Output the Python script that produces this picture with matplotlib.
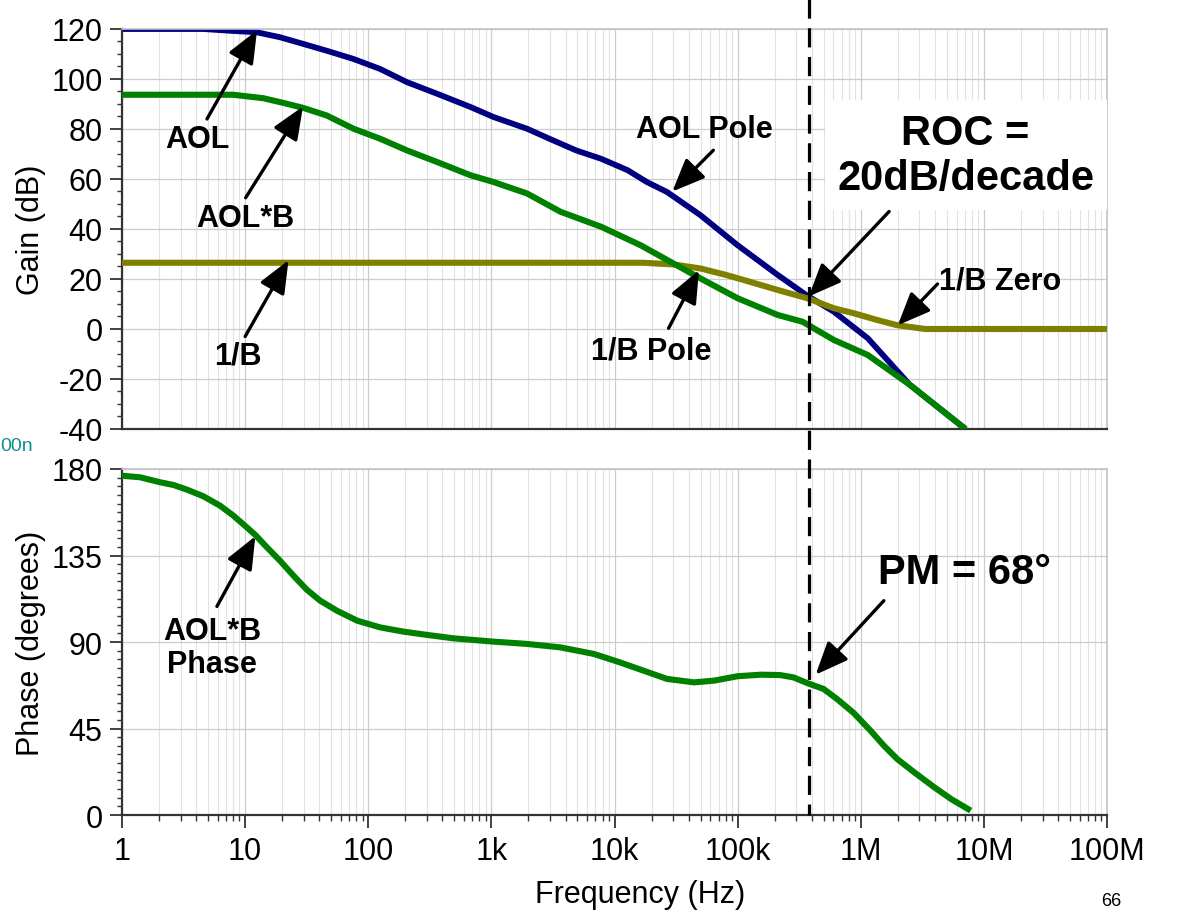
import numpy as np
import matplotlib.pyplot as plt
import matplotlib.transforms as mtransforms
from matplotlib.lines import Line2D
from matplotlib.ticker import FixedLocator, LogLocator, MultipleLocator, NullFormatter

plt.rcParams['font.family'] = ['Liberation Sans', 'DejaVu Sans']
plt.rcParams['axes.unicode_minus'] = False

# AOL (open loop gain), dB
aol_f = [1, 4.6, 7.5, 12.4, 19.2, 29.8, 46, 76, 125, 207, 362, 676, 1040, 1950,
         2960, 4900, 7780, 12800, 18300, 26700, 50000, 100000, 212000, 368000,
         605000, 1140000, 2500000, 6800000]
aol_db = [120, 120, 119.3, 118.7, 116.7, 114, 111.3, 108, 104, 98.7, 94.1, 88.8,
          84.8, 80.1, 76.1, 71.4, 68.1, 63.5, 58.8, 54.8, 45.5, 33.5, 21.6, 13.3,
          6.9, -3.7, -22.3, -39.3]

# AOL*B (loop gain), dB
loop_f = [1, 8, 14.1, 21.8, 29.8, 46, 76, 125, 207, 362, 676, 1040, 1950, 3640,
          7780, 16300, 32000, 50000, 100000, 212000, 337000, 415000, 605000,
          1140000, 2500000, 6800000]
loop_db = [93.7, 93.7, 92.3, 90.1, 88.4, 85.4, 80.1, 76.1, 71.4, 66.8, 61.5, 58.8,
           54.2, 46.9, 40.9, 33.5, 25.5, 20.2, 12.3, 5.6, 2.9, 0.3, -4.4, -10.4,
           -22.3, -39.3]

# 1/B, dB
invb_f = [1, 17200, 30400, 50000, 81000, 112000, 212000, 368000, 605000, 876000,
          1360000, 1980000, 3340000, 1e8]
invb_db = [26.5, 26.5, 25.8, 24.2, 21.6, 19.6, 15.6, 12.3, 8.3, 6.3, 3.6, 1.5,
           0, 0]

# AOL*B phase, degrees
ph_f = [1, 1.4, 2.04, 2.61, 3.36, 4.58, 6.26, 8.04, 10.3, 12.1, 15, 19.2, 24.7,
        31.7, 40.7, 55.6, 81.2, 125, 193, 300, 494, 1040, 1950, 3640, 6790,
        11070, 17190, 26670, 44230, 64500, 99900, 155000, 221000, 284000,
        372000, 498000, 640000, 876000, 1200000, 1540000, 1980000, 2720000,
        3960000, 5420000, 7440000]
ph_deg = [176.5, 175.7, 173.1, 171.7, 169.3, 165.8, 160.9, 155.7, 149.7, 145.7,
          139.3, 132.3, 124.5, 117.2, 111.5, 106.3, 101.1, 97.6, 95.4, 93.7,
          91.9, 90.2, 89.0, 87.2, 83.8, 79.4, 75.1, 70.8, 69.0, 69.9, 72.2, 73.0,
          72.8, 71.6, 68.5, 65.6, 60.4, 53.1, 43.9, 36.1, 29.1, 22.2, 14.4, 8.3,
          3.1]

f_cross = 378000  # frequency of the dashed marker line

x_ticks = [1, 10, 100, 1e3, 1e4, 1e5, 1e6, 1e7, 1e8]
x_labels = ['1', '10', '100', '1k', '10k', '100k', '1M', '10M', '100M']
gain_ticks = [-40, -20, 0, 20, 40, 60, 80, 100, 120]
phase_ticks = [0, 45, 90, 135, 180]

fig = plt.figure(figsize=(11.8, 9.12), dpi=100)
ax1 = fig.add_axes([0.10339, 0.52851, 0.83475, 0.43860])
ax2 = fig.add_axes([0.10339, 0.10526, 0.83475, 0.37939])

for ax in (ax1, ax2):
    ax.set_xscale('log')
    ax.set_xlim(1, 1e8)
    ax.xaxis.set_major_locator(FixedLocator(x_ticks))
    ax.xaxis.set_minor_locator(LogLocator(base=10, subs=np.arange(2, 10)))
    ax.xaxis.set_minor_formatter(NullFormatter())
    ax.set_axisbelow(True)
    ax.grid(True, which='major', color='#cccccc', lw=0.9)
    ax.grid(True, which='minor', axis='x', color='#e2e2e2', lw=0.8)
    for s in ('top', 'right'):
        ax.spines[s].set_color('#c4c4c4')
        ax.spines[s].set_linewidth(1.2)
    for s in ('left', 'bottom'):
        ax.spines[s].set_color('#333333')
        ax.spines[s].set_linewidth(1.6)
    ax.tick_params(axis='y', which='major', labelsize=22, length=9, width=1.3,
                   pad=5, color='#333333')
    ax.tick_params(axis='y', which='minor', length=3.5, width=1.0, color='#333333')

# gain plot
ax1.plot(aol_f, aol_db, color='#000080', lw=4.2, zorder=2)
ax1.plot(invb_f, invb_db, color='#808000', lw=4.4, zorder=3)
ax1.plot(loop_f, loop_db, color='#008000', lw=4.4, zorder=4)
ax1.set_ylim(-40, 120)
ax1.set_yticks(gain_ticks)
ax1.yaxis.set_minor_locator(MultipleLocator(5))
ax1.tick_params(axis='x', which='both', length=0, labelbottom=False)
ax1.set_ylabel('Gain (dB)', fontsize=22)
ax1.yaxis.set_label_coords(-0.077, 0.5)

# phase plot
ax2.plot(ph_f, ph_deg, color='#008000', lw=4.4, zorder=4)
ax2.set_ylim(0, 180)
ax2.set_yticks(phase_ticks)
ax2.yaxis.set_minor_locator(MultipleLocator(4.5))
ax2.set_xticklabels(x_labels)
ax2.tick_params(axis='x', which='major', labelsize=22, length=9, width=1.3,
                pad=6, color='#333333')
ax2.tick_params(axis='x', which='minor', length=4.5, width=1.0, color='#333333')
ax2.set_ylabel('Phase (degrees)', fontsize=22)
ax2.yaxis.set_label_coords(-0.077, 0.5)
ax2.set_xlabel('Frequency (Hz)', fontsize=22)
ax2.xaxis.set_label_coords(0.526, -0.185)

# dashed crossover line through both plots
trans = mtransforms.blended_transform_factory(ax1.transData, fig.transFigure)
fig.add_artist(Line2D([f_cross, f_cross], [1.0, 0.105], transform=trans,
                      color='black', lw=2.3, dashes=(6, 3), zorder=10))

arrow = dict(arrowstyle='-|>,head_length=1.0,head_width=0.42', mutation_scale=20,
             lw=2.4, color='black', shrinkA=0, shrinkB=0)


def label(ax, text, pos, start, tip, size=22, **kw):
    ax.text(pos[0], pos[1], text, fontsize=size, fontweight='bold',
            ha='center', va='center', zorder=6, **kw)
    ax.annotate('', xy=tip, xytext=start, arrowprops=arrow, zorder=7)


label(ax1, 'AOL', (4.1, 76), (4.9, 84), (12.5, 119.5))
label(ax1, 'AOL*B', (10, 44.5), (10.1, 52.5), (29.5, 89))
label(ax1, '1/B', (8.8, -10.5), (10, -3), (22.5, 27.5))
label(ax1, 'AOL Pole', (54000, 80), (63500, 71.5), (29500, 55))
label(ax1, '1/B Pole', (20000, -8.5), (27500, 0.3), (48500, 23.5))
label(ax1, '1/B Zero', (13500000, 19.4), (4200000, 18), (2000000, 1.5))
label(ax1, 'ROC =\n20dB/decade', (7100000, 69.5), (1700000, 47), (f_cross, 13),
      size=30, linespacing=1.15,
      bbox=dict(facecolor='white', edgecolor='none', boxstyle='square,pad=0.3'))

label(ax2, 'AOL*B\nPhase', (5.4, 87), (5.9, 108.5), (12.1, 145), linespacing=1.15)
label(ax2, 'PM = 68°', (6900000, 126.5), (1540000, 111.5), (430000, 73), size=30)

# stray slide text
fig.text(0.0, 1 - 447 / 912, '00n', color='#109090', fontsize=14,
         ha='left', va='center')
fig.text(1101 / 1180, 1 - 893 / 912, '66', color='black', fontsize=13,
         ha='left', va='top')

fig.savefig('out.png', dpi=100)
